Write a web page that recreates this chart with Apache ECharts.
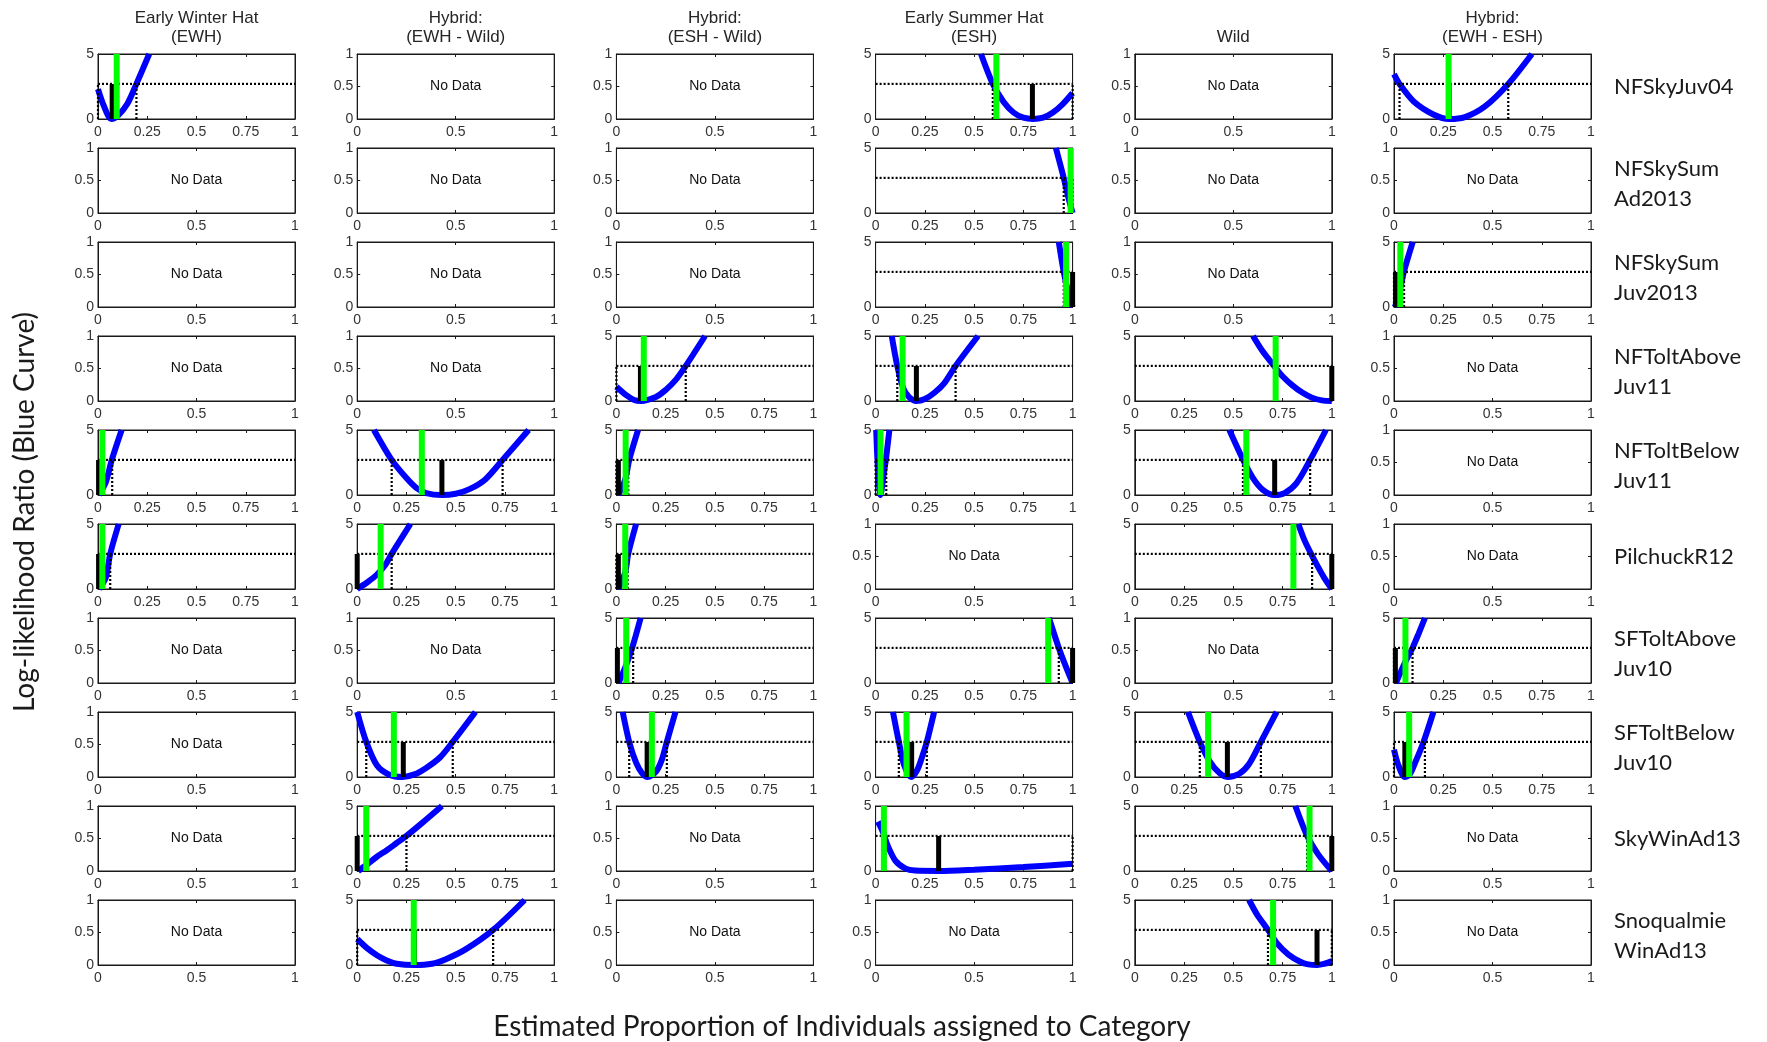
<!DOCTYPE html>
<html>
<head>
<meta charset="utf-8">
<script src="https://cdn.jsdelivr.net/npm/echarts/dist/echarts.min.js"></script>
<style>
  html, body { margin: 0; padding: 0; background: #ffffff; }
  #chart { width: 1767px; height: 1042px; }
</style>
</head>
<body>
<div id="chart"></div>
<script>
// ---- categories ----
const columnTitles = ['Early Winter Hat\n(EWH)', 'Hybrid:\n(EWH - Wild)', 'Hybrid:\n(ESH - Wild)',
                      'Early Summer Hat\n(ESH)', 'Wild', 'Hybrid:\n(EWH - ESH)'];
const rowNames = ['NFSkyJuv04', 'NFSkySum\nAd2013', 'NFSkySum\nJuv2013', 'NFToltAbove\nJuv11',
                  'NFToltBelow\nJuv11', 'PilchuckR12', 'SFToltAbove\nJuv10', 'SFToltBelow\nJuv10',
                  'SkyWinAd13', 'Snoqualmie\nWinAd13'];

// ---- axis ranges / ticks ----
const dataXTicks = [0, 0.25, 0.5, 0.75, 1];
const dataYTicks = [0, 5];
const emptyXTicks = [0, 0.5, 1];
const emptyYTicks = [0, 0.5, 1];
const cutoff = 2.7;   // likelihood-ratio threshold drawn as the dotted line

// ---- log-likelihood ratio curves [proportion, LLR] ----
const llrNFSkyJuv04_EWH      = [[0,2.3],[0.03,1.0],[0.068,0],[0.1,0.25],[0.15,1.2],[0.195,2.7],[0.26,5]];
const llrNFSkyJuv04_ESH      = [[0.535,5],[0.595,2.7],[0.65,1.3],[0.7,0.5],[0.75,0.1],[0.8,0],[0.85,0.1],[0.9,0.5],[0.95,1.15],[1,2.0]];
const llrNFSkyJuv04_EWHESH   = [[0,3.45],[0.028,2.7],[0.1,1.35],[0.2,0.35],[0.28,0],[0.36,0.15],[0.46,0.95],[0.58,2.7],[0.7,5]];
const llrNFSkySumAd2013_ESH  = [[0.915,5],[0.955,2.7],[0.98,1.1],[1,0]];
const llrNFSkySumJuv2013_ESH = [[0.93,5],[0.955,2.7],[0.98,1.0],[1,0]];
const llrNFSkySumJuv2013_EWHESH = [[0.005,0],[0.03,1.3],[0.05,2.7],[0.095,5]];
const llrNFToltAboveJuv11_ESHWild = [[0,1.1],[0.05,0.45],[0.09,0.08],[0.125,0],[0.2,0.3],[0.25,0.85],[0.3,1.6],[0.352,2.7],[0.45,5]];
const llrNFToltAboveJuv11_ESH = [[0.082,5],[0.11,2.7],[0.14,1.0],[0.17,0.3],[0.207,0],[0.25,0.15],[0.3,0.65],[0.35,1.4],[0.406,2.7],[0.52,5]];
const llrNFToltAboveJuv11_Wild = [[0.6,5],[0.65,3.8],[0.707,2.7],[0.75,1.9],[0.8,1.2],[0.85,0.65],[0.9,0.25],[0.95,0.05],[1,0]];
const llrNFToltBelowJuv11_EWH = [[0.005,0],[0.04,1.0],[0.07,2.7],[0.12,5]];
const llrNFToltBelowJuv11_EWHWild = [[0.085,5],[0.175,2.7],[0.25,1.3],[0.3,0.55],[0.35,0.15],[0.43,0],[0.5,0.1],[0.57,0.45],[0.65,1.2],[0.738,2.7],[0.87,5]];
const llrNFToltBelowJuv11_ESHWild = [[0.01,0],[0.045,1.2],[0.065,2.7],[0.11,5]];
const llrNFToltBelowJuv11_ESH = [[0.003,5],[0.012,2.0],[0.025,0],[0.04,1.5],[0.052,2.7],[0.07,5]];
const llrNFToltBelowJuv11_Wild = [[0.48,5],[0.55,2.7],[0.6,1.3],[0.65,0.4],[0.71,0],[0.76,0.15],[0.82,0.9],[0.89,2.7],[0.97,5]];
const llrPilchuckR12_EWH = [[0.005,0],[0.04,0.9],[0.062,2.7],[0.105,5]];
const llrPilchuckR12_EWHWild = [[0,0],[0.05,0.5],[0.1,1.1],[0.14,1.8],[0.175,2.7],[0.22,3.8],[0.27,5]];
const llrPilchuckR12_ESHWild = [[0.01,0],[0.045,1.3],[0.06,2.7],[0.1,5]];
const llrPilchuckR12_Wild = [[0.83,5],[0.86,3.8],[0.895,2.7],[0.93,1.7],[0.96,0.9],[1,0]];
const llrSFToltAboveJuv10_ESHWild = [[0.01,0],[0.045,1.2],[0.08,2.7],[0.123,5]];
const llrSFToltAboveJuv10_ESH = [[0.88,5],[0.93,2.7],[0.965,1.3],[1,0]];
const llrSFToltAboveJuv10_EWHESH = [[0.01,0],[0.03,0.7],[0.06,1.7],[0.094,2.7],[0.125,3.8],[0.157,5]];
const llrSFToltBelowJuv10_EWHWild = [[0,5],[0.046,2.7],[0.1,0.9],[0.16,0.2],[0.23,0],[0.29,0.2],[0.35,0.7],[0.42,1.5],[0.485,2.7],[0.6,5]];
const llrSFToltBelowJuv10_ESHWild = [[0.032,5],[0.065,2.7],[0.1,1.1],[0.13,0.3],[0.158,0],[0.2,0.4],[0.23,1.3],[0.256,2.7],[0.3,5]];
const llrSFToltBelowJuv10_ESH = [[0.088,5],[0.118,2.7],[0.145,0.9],[0.18,0],[0.21,0.5],[0.235,1.5],[0.26,2.7],[0.297,5]];
const llrSFToltBelowJuv10_Wild = [[0.27,5],[0.33,2.7],[0.38,1.2],[0.43,0.3],[0.47,0],[0.53,0.25],[0.58,1.0],[0.64,2.7],[0.72,5]];
const llrSFToltBelowJuv10_EWHESH = [[0,2.1],[0.02,1.0],[0.055,0],[0.08,0.2],[0.11,1.2],[0.15,2.7],[0.2,5]];
const llrSkyWinAd13_EWHWild = [[0.005,0],[0.05,0.5],[0.1,1.1],[0.15,1.6],[0.2,2.15],[0.25,2.7],[0.33,3.7],[0.43,5]];
const llrSkyWinAd13_ESH = [[0.012,3.8],[0.04,2.9],[0.06,2.0],[0.1,0.8],[0.15,0.2],[0.2,0.03],[0.32,0],[0.5,0.1],[0.75,0.3],[1,0.55]];
const llrSkyWinAd13_Wild = [[0.815,5],[0.875,2.7],[0.93,1.3],[1,0]];
const llrSnoqualmieWinAd13_EWHWild = [[0,2.0],[0.05,1.3],[0.1,0.75],[0.15,0.35],[0.2,0.1],[0.29,0],[0.38,0.1],[0.45,0.45],[0.55,1.2],[0.69,2.7],[0.85,5]];
const llrSnoqualmieWinAd13_Wild = [[0.58,5],[0.62,3.9],[0.676,2.7],[0.72,1.7],[0.78,0.8],[0.84,0.25],[0.88,0.05],[0.925,0],[0.96,0.08],[1,0.3]];

// ---- panels with data: [row, column, curve, maximum-likelihood estimate, reference proportion, CI low, CI high] ----
const estimates = [
  [0, 0, llrNFSkyJuv04_EWH, 0.072, 0.095, 0, 0.195],
  [0, 3, llrNFSkyJuv04_ESH, 0.796, 0.613, 0.595, 1],
  [0, 5, llrNFSkyJuv04_EWHESH, 0.28, 0.277, 0.028, 0.58],
  [1, 3, llrNFSkySumAd2013_ESH, 0.99, 0.99, 0.955, 1],
  [2, 3, llrNFSkySumJuv2013_ESH, 1.0, 0.967, 0.955, 1],
  [2, 5, llrNFSkySumJuv2013_EWHESH, 0.008, 0.032, 0, 0.051],
  [3, 2, llrNFToltAboveJuv11_ESHWild, 0.122, 0.139, 0, 0.352],
  [3, 3, llrNFToltAboveJuv11_ESH, 0.207, 0.137, 0.11, 0.406],
  [3, 4, llrNFToltAboveJuv11_Wild, 1.0, 0.715, 0.707, 1],
  [4, 0, llrNFToltBelowJuv11_EWH, 0.003, 0.022, 0, 0.072],
  [4, 1, llrNFToltBelowJuv11_EWHWild, 0.43, 0.328, 0.175, 0.738],
  [4, 2, llrNFToltBelowJuv11_ESHWild, 0.01, 0.047, 0, 0.06],
  [4, 3, llrNFToltBelowJuv11_ESH, 0.02, 0.025, 0, 0.054],
  [4, 4, llrNFToltBelowJuv11_Wild, 0.71, 0.566, 0.549, 0.89],
  [5, 0, llrPilchuckR12_EWH, 0.003, 0.022, 0, 0.062],
  [5, 1, llrPilchuckR12_EWHWild, 0, 0.119, 0, 0.175],
  [5, 2, llrPilchuckR12_ESHWild, 0.01, 0.045, 0, 0.057],
  [5, 4, llrPilchuckR12_Wild, 1.0, 0.805, 0.9, 1],
  [6, 2, llrSFToltAboveJuv10_ESHWild, 0.005, 0.05, 0, 0.085],
  [6, 3, llrSFToltAboveJuv10_ESH, 1.0, 0.876, 0.93, 1],
  [6, 5, llrSFToltAboveJuv10_EWHESH, 0.007, 0.058, 0, 0.094],
  [7, 1, llrSFToltBelowJuv10_EWHWild, 0.234, 0.186, 0.046, 0.485],
  [7, 2, llrSFToltBelowJuv10_ESHWild, 0.156, 0.18, 0.065, 0.256],
  [7, 3, llrSFToltBelowJuv10_ESH, 0.183, 0.157, 0.118, 0.26],
  [7, 4, llrSFToltBelowJuv10_Wild, 0.47, 0.372, 0.33, 0.64],
  [7, 5, llrSFToltBelowJuv10_EWHESH, 0.055, 0.077, 0, 0.157],
  [8, 1, llrSkyWinAd13_EWHWild, 0, 0.046, 0, 0.25],
  [8, 3, llrSkyWinAd13_ESH, 0.32, 0.042, 0.05, 1],
  [8, 4, llrSkyWinAd13_Wild, 1.0, 0.887, 0.875, 1],
  [9, 1, llrSnoqualmieWinAd13_EWHWild, 0.29, 0.287, 0, 0.69],
  [9, 4, llrSnoqualmieWinAd13_Wild, 0.925, 0.702, 0.676, 1]
];

// ---- layout ----
const LEFT0 = 98, COL_STEP = 259.2, PANEL_W = 197;
const TOP0 = 54, ROW_STEP = 94, PANEL_H = 65;
const AXIS_COLOR = '#1a1a1a';
const TICK_FONT = { color: '#333333', fontSize: 14, fontFamily: 'Liberation Sans, Arial, sans-serif' };
const DOTS = [2, 2];

const grids = [], xAxes = [], yAxes = [], series = [], graphics = [];

function panelLeft(c) { return LEFT0 + COL_STEP * c; }
function panelTop(r) { return TOP0 + ROW_STEP * r; }

function axisBase(gridIndex, min, max, step, position, showLabel, margin) {
  return {
    gridIndex, type: 'value', min, max, interval: step, position,
    axisLine: { show: true, onZero: false, lineStyle: { color: AXIS_COLOR, width: 1 } },
    axisTick: { show: true, inside: true, length: 3, lineStyle: { color: AXIS_COLOR, width: 1 } },
    axisLabel: Object.assign({ show: showLabel, margin, showMinLabel: true, showMaxLabel: true, hideOverlap: false }, TICK_FONT),
    splitLine: { show: false }
  };
}

function lineSeries(xi, yi, data, color, width, type, smooth) {
  return {
    type: 'line', xAxisIndex: xi, yAxisIndex: yi, data,
    showSymbol: false, symbol: 'none', smooth: smooth || false, clip: true,
    lineStyle: { color, width, type: type || 'solid', cap: 'butt' },
    animation: false, silent: true
  };
}

for (let r = 0; r < rowNames.length; r++) {
  for (let c = 0; c < columnTitles.length; c++) {
    const k = grids.length;
    const entry = estimates.find(e => e[0] === r && e[1] === c);
    const hasData = !!entry;
    const xt = hasData ? dataXTicks : emptyXTicks;
    const yt = hasData ? dataYTicks : emptyYTicks;
    const left = panelLeft(c), top = panelTop(r);

    grids.push({ left, top, width: PANEL_W, height: PANEL_H, show: true,
                 borderColor: AXIS_COLOR, borderWidth: 1, backgroundColor: '#ffffff' });

    const xStep = xt[1] - xt[0], yStep = yt[1] - yt[0];
    xAxes.push(axisBase(k, xt[0], xt[xt.length - 1], xStep, 'bottom', true, 6));
    xAxes.push(axisBase(k, xt[0], xt[xt.length - 1], xStep, 'top', false, 6));
    yAxes.push(axisBase(k, yt[0], yt[yt.length - 1], yStep, 'left', true, 4));
    yAxes.push(axisBase(k, yt[0], yt[yt.length - 1], yStep, 'right', false, 4));

    const xi = 2 * k, yi = 2 * k;
    if (hasData) {
      const [, , curve, mle, ref, lo, hi] = entry;
      series.push(lineSeries(xi, yi, curve, '#0000ff', 6, 'solid', 0.3));
      series.push(lineSeries(xi, yi, [[0, cutoff], [1, cutoff]], '#000000', 2.2, DOTS));
      series.push(lineSeries(xi, yi, [[lo, 0], [lo, cutoff]], '#000000', 2.2, DOTS));
      series.push(lineSeries(xi, yi, [[hi, 0], [hi, cutoff]], '#000000', 2.2, DOTS));
      series.push(lineSeries(xi, yi, [[mle, 0], [mle, cutoff]], '#000000', 5));
      series.push(lineSeries(xi, yi, [[ref, 0], [ref, 5]], '#00ff00', 6));
    } else {
      graphics.push({
        type: 'text', x: left + PANEL_W / 2, y: top + PANEL_H / 2, z: 10,
        style: { text: 'No Data', fill: '#111111', fontSize: 14,
                 fontFamily: 'Liberation Sans, Arial, sans-serif', align: 'center', verticalAlign: 'middle' }
      });
    }
  }
}

// column headings
columnTitles.forEach((t, c) => {
  graphics.push({
    type: 'text', x: panelLeft(c) + PANEL_W / 2, y: 47,
    style: { text: t, fill: '#262626', fontSize: 17, lineHeight: 19,
             fontFamily: 'Liberation Sans, Arial, sans-serif', align: 'center', verticalAlign: 'bottom' }
  });
});

// row labels
rowNames.forEach((t, r) => {
  graphics.push({
    type: 'text', x: 1614, y: panelTop(r) + PANEL_H / 2 + (t.indexOf('\n') >= 0 ? 3 : 0),
    style: { text: t, fill: '#1a1a1a', fontSize: 22, lineHeight: 30,
             fontFamily: 'Lato, Carlito, sans-serif', align: 'left', verticalAlign: 'middle' }
  });
});

// axis titles
graphics.push({
  type: 'text', x: 25, y: 512, rotation: Math.PI / 2,
  style: { text: 'Log-likelihood Ratio (Blue Curve)', fill: '#1a1a1a', fontSize: 28,
           fontFamily: 'Lato, Carlito, sans-serif', align: 'center', verticalAlign: 'middle' }
});
graphics.push({
  type: 'text', x: 842, y: 1027,
  style: { text: 'Estimated Proportion of Individuals assigned to Category', fill: '#1a1a1a', fontSize: 28,
           fontFamily: 'Lato, Carlito, sans-serif', align: 'center', verticalAlign: 'middle' }
});

const chart = echarts.init(document.getElementById('chart'), null, { renderer: 'canvas' });
chart.setOption({
  backgroundColor: '#ffffff',
  animation: false,
  grid: grids,
  xAxis: xAxes,
  yAxis: yAxes,
  series,
  graphic: graphics
});
</script>
</body>
</html>
